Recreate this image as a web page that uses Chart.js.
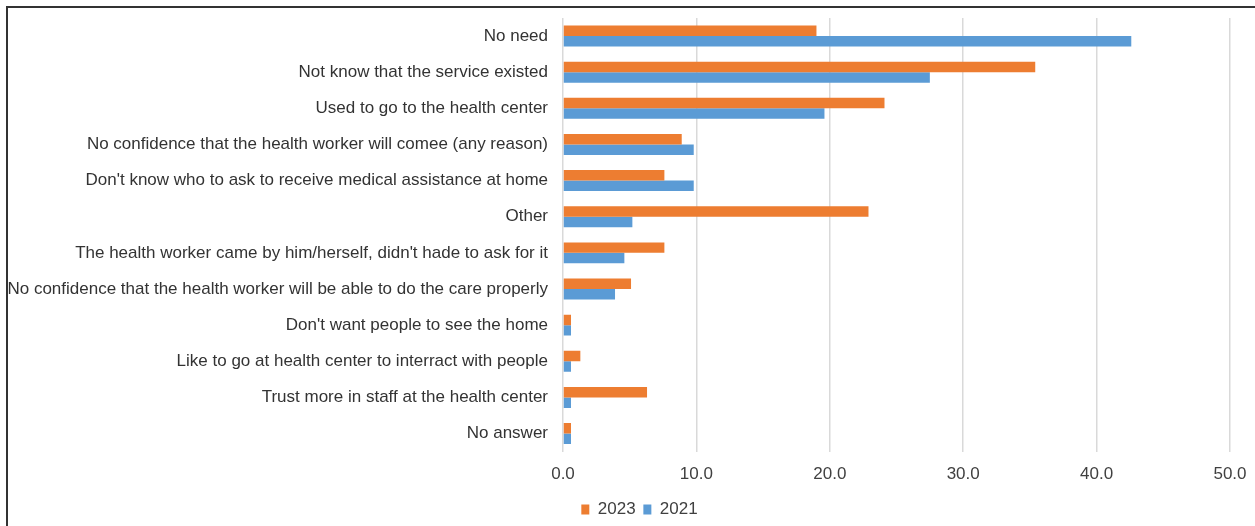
<!DOCTYPE html>
<html>
<head>
<meta charset="utf-8">
<script src="https://cdn.jsdelivr.net/npm/chart.js@4.4.1/dist/chart.umd.min.js"></script>
<style>
  html, body { margin: 0; padding: 0; background: #fff; overflow: hidden; }
  #wrap { position: relative; width: 1255px; height: 526px; }
  #frame { position: absolute; left: 6px; top: 6px; width: 1270px; height: 540px; border: 2px solid #333; box-sizing: border-box; pointer-events: none; }
  canvas { position: absolute; left: 0; top: 0; }
</style>
</head>
<body>
<div id="wrap">
  <canvas id="c" width="1255" height="526"></canvas>
  <div id="frame"></div>
</div>
<script>
const categories = [
  "No need",
  "Not know that the service existed",
  "Used to go to the health center",
  "No confidence that the health worker will comee (any reason)",
  "Don't know who to ask to receive medical assistance at home",
  "Other",
  "The health worker came by him/herself, didn't hade to ask for it",
  "No confidence that the health worker will be able to do the care properly",
  "Don't want people to see the home",
  "Like to go at health center to interract with people",
  "Trust more in staff at the health center",
  "No answer"
];
const values2023 = [19.0, 35.4, 24.1, 8.9, 7.6, 22.9, 7.6, 5.1, 0.6, 1.3, 6.3, 0.6];
const values2021 = [42.6, 27.5, 19.6, 9.8, 9.8, 5.2, 4.6, 3.9, 0.6, 0.6, 0.6, 0.6];
const seriesNames = ["2023", "2021"];
const xTicks = [0, 10, 20, 30, 40, 50];

const FONT = "'Liberation Sans', Arial, sans-serif";
const AXIS_X = 563;
const LEGEND_SHIFT = 12;

const legendShift = {
  id: 'legendShift',
  afterLayout(chart) {
    const lg = chart.legend;
    if (lg) { lg.left += LEGEND_SHIFT; lg.right += LEGEND_SHIFT; }
  }
};

new Chart(document.getElementById('c'), {
  type: 'bar',
  data: {
    labels: categories,
    datasets: [
      { label: seriesNames[0], data: values2023, backgroundColor: '#ED7D31', borderWidth: 0 },
      { label: seriesNames[1], data: values2021, backgroundColor: '#5B9BD5', borderWidth: 0 }
    ]
  },
  plugins: [legendShift],
  options: {
    indexAxis: 'y',
    responsive: false,
    animation: false,
    devicePixelRatio: 1,
    datasets: { bar: { categoryPercentage: 0.58, barPercentage: 1.0 } },
    layout: { padding: { left: 0, right: 0, top: 18, bottom: -2 } },
    plugins: {
      tooltip: { enabled: false },
      legend: {
        position: 'bottom',
        align: 'center',
        labels: {
          boxWidth: 8,
          boxHeight: 10,
          padding: 3,
          color: '#404040',
          font: { family: FONT, size: 17 },
          generateLabels: (chart) => {
            const items = Chart.defaults.plugins.legend.labels.generateLabels(chart);
            items.forEach((it, i) => { if (i < items.length - 1) it.text = it.text + '\u00A0'; });
            return items;
          }
        }
      }
    },
    scales: {
      x: {
        min: xTicks[0],
        max: xTicks[xTicks.length - 1],
        afterBuildTicks: (scale) => { scale.ticks = xTicks.map(v => ({ value: v })); },
        afterFit: (scale) => { scale.paddingRight = 25; scale.paddingLeft = 0; },
        ticks: {
          padding: 13,
          color: '#404040',
          font: { family: FONT, size: 17 },
          callback: (v) => Number(v).toFixed(1)
        },
        grid: { color: '#D9D9D9', lineWidth: 1.5, drawTicks: false },
        border: { display: false }
      },
      y: {
        afterFit: (scale) => {
          scale.width = AXIS_X;
          scale.paddingTop = 0;
          scale.paddingBottom = 0;
        },
        ticks: {
          padding: 15,
          color: '#333333',
          font: { family: FONT, size: 17 },
          autoSkip: false
        },
        grid: { display: false, drawTicks: false },
        border: { display: false }
      }
    }
  }
});
</script>
</body>
</html>
